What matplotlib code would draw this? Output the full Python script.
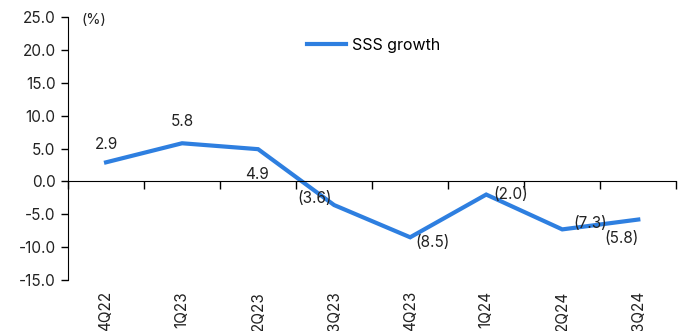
import numpy as np
import matplotlib.pyplot as plt

plt.rcParams['font.family'] = ['Inter', 'DejaVu Sans']

quarters = ['4Q22', '1Q23', '2Q23', '3Q23', '4Q23', '1Q24', '2Q24', '3Q24']
sss_growth = [2.9, 5.8, 4.9, -3.6, -8.5, -2.0, -7.3, -5.8]
# label offsets in points (dx, dy)
label_offsets = [(0, 13), (0, 16), (-1, -18), (-14, 5), (16, -4), (18, 0), (20, 4), (-12, -14)]

blue = '#2E7FE0'

fig = plt.figure(figsize=(6.85, 3.31), dpi=100)
ax = fig.add_axes([0.0993, 0.154, 0.888, 0.7946])

x = np.arange(len(quarters))
ax.plot(x, sss_growth, color=blue, lw=3, label='SSS growth', solid_joinstyle='miter')

for i, v in enumerate(sss_growth):
    txt = f'{v:.1f}' if v >= 0 else f'({abs(v):.1f})'
    dx, dy = label_offsets[i]
    ax.annotate(txt, (i, v), xytext=(dx, dy), textcoords='offset points',
                ha='center', va='center', fontsize=11, color='#222222')

ax.set_xlim(-0.5, len(quarters) - 0.5)
ax.set_ylim(-15, 25)
ax.set_yticks(np.arange(-15, 26, 5))
ax.set_yticklabels([f'{t:.1f}' for t in np.arange(-15, 26, 5)], fontsize=11, color='#222222')
ax.tick_params(axis='y', length=5, width=1, pad=4)

ax.spines['top'].set_visible(False)
ax.spines['right'].set_visible(False)
ax.spines['bottom'].set_position(('data', 0))
ax.set_xticks(np.arange(len(quarters) + 1) - 0.5)
ax.set_xticklabels([])
ax.tick_params(axis='x', length=6, width=1, direction='out')

for i, q in enumerate(quarters):
    ax.annotate(q, (i, 0), xycoords=('data', 'axes fraction'), xytext=(0, -8),
                textcoords='offset points', rotation=90, ha='center', va='top',
                fontsize=11, color='#222222')

ax.text(0.043, 0.99, '(%)', transform=ax.transAxes, ha='center', va='center',
        fontsize=10.5, color='#222222')

ax.legend(loc='upper left', bbox_to_anchor=(0.37, 0.975), frameon=False,
          fontsize=11.5, handlelength=2.4, handletextpad=0.4)

fig.savefig('out.png', dpi=100)
